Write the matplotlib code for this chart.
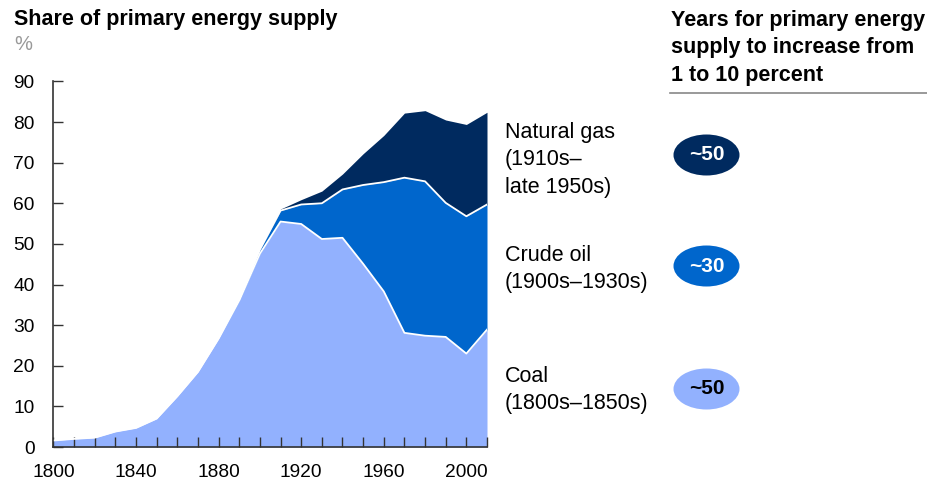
import matplotlib
matplotlib.use("Agg")
import matplotlib.pyplot as plt
from matplotlib.patches import Ellipse
import numpy as np

plt.rcParams['font.family'] = ['Liberation Sans', 'DejaVu Sans']

years = [1800, 1810, 1820, 1830, 1840, 1850, 1860, 1870, 1880, 1890, 1900,
         1910, 1920, 1930, 1940, 1950, 1960, 1970, 1980, 1990, 2000, 2010]
coal = [1.6, 2.0, 2.3, 3.8, 4.7, 7.0, 12.5, 18.5, 26.7, 36.1, 47.6,
        55.5, 54.9, 51.2, 51.5, 45.1, 38.3, 28.1, 27.4, 27.1, 23.0, 28.9]
oil = [0, 0, 0, 0, 0, 0, 0, 0, 0, 0.2, 1.0,
       2.7, 4.8, 8.8, 11.9, 19.4, 26.9, 38.2, 38.0, 33.0, 33.8, 30.8]
gas = [0, 0, 0, 0, 0, 0, 0, 0, 0, 0, 0.2,
       0.4, 1.2, 3.0, 3.8, 7.7, 11.5, 15.9, 17.4, 20.4, 22.6, 22.7]

series_labels = ["Coal\n(1800s–1850s)", "Crude oil\n(1900s–1930s)", "Natural gas\n(1910s–\nlate 1950s)"]
years_to_grow = ["~50", "~30", "~50"]
colors = ["#92B1FE", "#0066CC", "#002A5F"]
badge_text_colors = ["black", "white", "white"]

ytick_vals = [0, 10, 20, 30, 40, 50, 60, 70, 80, 90]
xtick_labels = [1800, 1840, 1880, 1920, 1960, 2000]

W, H = 928, 482
fig = plt.figure(figsize=(W / 100, H / 100), dpi=100)
ax = fig.add_axes([53.5 / W, (H - 447) / H, (487 - 53.5) / W, (447 - 81.4) / H])

x = np.array(years)
c = np.array(coal)
o = np.array(oil)
g = np.array(gas)
ax.fill_between(x, 0, c, color=colors[0], linewidth=0)
ax.fill_between(x, c, c + o, color=colors[1], linewidth=0)
ax.fill_between(x, c + o, c + o + g, color=colors[2], linewidth=0)
ax.plot(x, c, color="white", lw=1.3, solid_joinstyle="round")
m = x >= 1890
ax.plot(x[m], (c + o)[m], color="white", lw=1.3, solid_joinstyle="round")

ax.set_xlim(1800, 2010)
ax.set_ylim(0, 90)
for s in ["top", "right"]:
    ax.spines[s].set_visible(False)
for s in ["left", "bottom"]:
    ax.spines[s].set_color("#333333")
    ax.spines[s].set_linewidth(1.2)
ax.spines["bottom"].set_zorder(5)

ax.set_yticks(ytick_vals)
ax.set_yticklabels([str(v) for v in ytick_vals])
ax.set_xticks(np.arange(1800, 2011, 10))
ax.set_xticklabels([str(v) if v in xtick_labels else "" for v in np.arange(1800, 2011, 10)])
ax.tick_params(axis="both", direction="in", length=7, width=1, color="#333333",
               labelsize=13.8, labelcolor="black")
ax.tick_params(axis="y", pad=13.5)
ax.tick_params(axis="x", pad=12)
for lab in ax.get_yticklabels():
    lab.set_horizontalalignment("right")

# Titles
fig.text(14 / W, 1 - 20 / H, "Share of primary energy supply", fontsize=15.5,
         fontweight="bold", va="center", ha="left")
fig.text(14 / W, 1 - 45 / H, "%", fontsize=14.5, color="#999999", va="center", ha="left")
fig.text(671 / W, 1 - 48 / H, "Years for primary energy\nsupply to increase from\n1 to 10 percent",
         fontsize=15.5, fontweight="bold", va="center", ha="left", linespacing=1.4)
fig.add_artist(plt.Line2D([670 / W, 1.0], [1 - 93 / H, 1 - 93 / H], color="#888888", lw=1.2,
                          transform=fig.transFigure))

# Series labels and badges
label_y = [390, 269, 160]
badge_y = [389, 266, 155]
for lab, yy in zip(series_labels, label_y):
    fig.text(505 / W, 1 - yy / H, lab, fontsize=15.5, va="center", ha="left", linespacing=1.4)
for txt, yy, col, tcol in zip(years_to_grow, badge_y, colors, badge_text_colors):
    e = Ellipse((706.5 / W, 1 - yy / H), 66 / W, 41 / H, transform=fig.transFigure,
                facecolor=col, edgecolor="none")
    fig.add_artist(e)
    fig.text(706.5 / W, 1 - yy / H, txt, fontsize=15, fontweight="bold", color=tcol,
             va="center", ha="center")

fig.savefig("out.png", dpi=100)
